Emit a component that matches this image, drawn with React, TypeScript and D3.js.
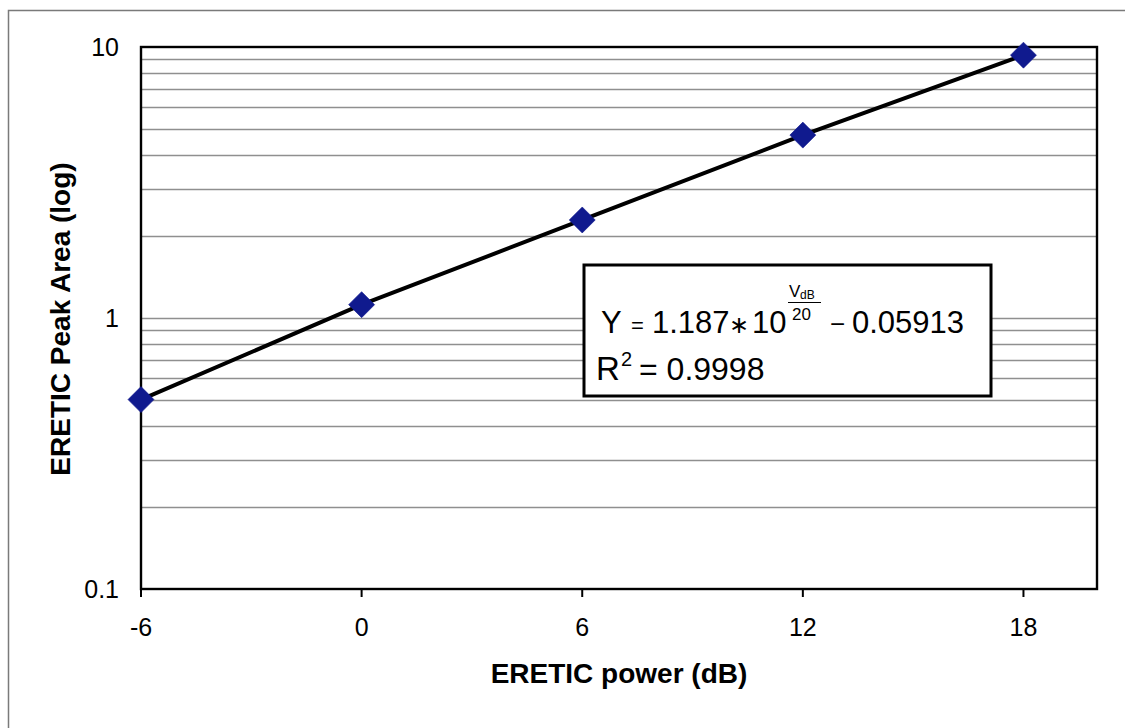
import React from "react";
import * as d3 from "d3";

const powerDb = [-6, 0, 6, 12, 18];
const peakArea = [0.5, 1.12, 2.3, 4.73, 9.33];
const xTicks = [-6, 0, 6, 12, 18];
const yTickLabels = [0.1, 1, 10];
const xAxisTitle = "ERETIC power (dB)";
const yAxisTitle = "ERETIC Peak Area (log)";

const W = 1125;
const H = 728;
const left = 141;
const right = 1097;
const top = 47;
const bottom = 589;
const FONT = "'Liberation Sans', Arial, sans-serif";

export default function App() {
  const x = d3.scaleLinear().domain([-6, 20]).range([left, right]);
  const y = d3.scaleLog().domain([0.1, 10]).range([bottom, top]);

  const minor: number[] = [];
  for (const dec of [0.1, 1]) {
    for (let k = 2; k <= 10; k++) minor.push(dec * k);
  }
  const gridVals = minor.filter((v) => v < 9.999);

  const pts: [number, number][] = powerDb.map((d, i) => [d, peakArea[i]]);
  const line = d3
    .line<[number, number]>()
    .x((d) => x(d[0]))
    .y((d) => y(d[1]));

  const dsz = 13;

  return (
    <svg
      width={W}
      height={H}
      style={{ position: "absolute", left: 0, top: 0, background: "#fff" }}
      fontFamily={FONT}
    >
      <rect x={0} y={0} width={W} height={H} fill="#fff" />
      {/* outer frame */}
      <path d={`M8.5,${H} L8.5,10.5 L${W},10.5`} fill="none" stroke="#7a7a7a" strokeWidth={1.5} />

      {/* gridlines */}
      {gridVals.map((v, i) => (
        <line
          key={i}
          x1={left}
          x2={right}
          y1={Math.round(y(v)) + 0.5}
          y2={Math.round(y(v)) + 0.5}
          stroke="#8f8f8f"
          strokeWidth={1.3}
        />
      ))}

      {/* plot border */}
      <rect x={left} y={top} width={right - left} height={bottom - top} fill="none" stroke="#000" strokeWidth={2.4} />

      {/* x ticks */}
      {xTicks.map((t) => (
        <g key={t}>
          <line x1={x(t)} x2={x(t)} y1={bottom} y2={bottom + 8} stroke="#000" strokeWidth={2} />
          <text x={x(t)} y={636} textAnchor="middle" fontSize={25} fill="#000">
            {t}
          </text>
        </g>
      ))}

      {/* y tick labels */}
      {yTickLabels.map((t) => (
        <text key={t} x={119} y={y(t) + 9} textAnchor="end" fontSize={25} fill="#000">
          {t}
        </text>
      ))}

      {/* data line */}
      <path d={line(pts) || ""} fill="none" stroke="#000" strokeWidth={4} strokeLinejoin="round" />

      {/* markers */}
      {pts.map((p, i) => {
        const cx = x(p[0]);
        const cy = y(p[1]);
        return (
          <path
            key={i}
            d={`M${cx},${cy - dsz} L${cx + dsz},${cy} L${cx},${cy + dsz} L${cx - dsz},${cy} Z`}
            fill="#101a8e"
            stroke="#101a8e"
            strokeWidth={0.6}
          />
        );
      })}

      {/* equation box */}
      <rect x={584} y={265} width={407} height={131} fill="#fff" stroke="#000" strokeWidth={3} />
      <g fill="#000">
        <text x={601} y={333} fontSize={31}>Y</text>
        <text x={631} y={333} fontSize={22}>=</text>
        <text x={652} y={333} fontSize={31}>1.187</text>
        <text x={729} y={333} fontSize={24}>∗</text>
        <text x={752} y={333} fontSize={31}>10</text>
        <text x={789} y={297} fontSize={17}>V</text>
        <text x={800} y={299} fontSize={12}>dB</text>
        <line x1={788} x2={821} y1={302.5} y2={302.5} stroke="#000" strokeWidth={1.2} />
        <text x={792} y={320} fontSize={17}>20</text>
        <text x={830} y={333} fontSize={26}>−</text>
        <text x={852} y={333} fontSize={31}>0.05913</text>
        <text x={596} y={380} fontSize={33}>R</text>
        <text x={621} y={366} fontSize={20}>2</text>
        <text x={639} y={380} fontSize={32}>= 0.9998</text>
      </g>

      {/* axis titles */}
      <text x={(left + right) / 2} y={683} textAnchor="middle" fontSize={28} fontWeight="bold" fill="#000">
        {xAxisTitle}
      </text>
      <text
        transform={`translate(70,319) rotate(-90)`}
        textAnchor="middle"
        fontSize={28}
        fontWeight="bold"
        fill="#000"
      >
        {yAxisTitle}
      </text>
    </svg>
  );
}
